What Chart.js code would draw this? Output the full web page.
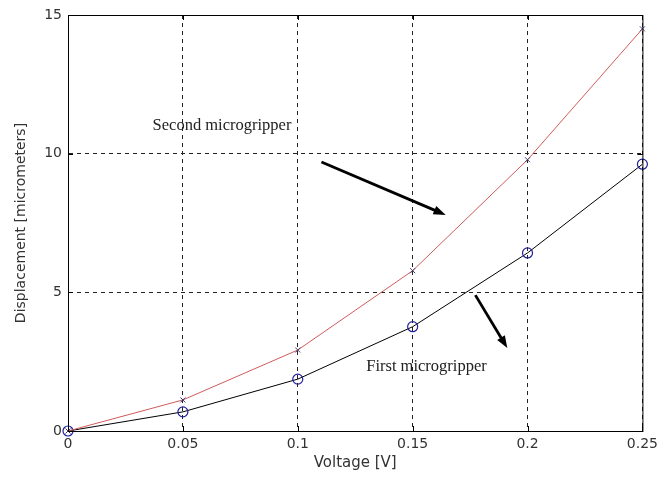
<!DOCTYPE html>
<html>
<head>
<meta charset="utf-8">
<script src="https://cdn.jsdelivr.net/npm/chart.js@4"></script>
<style>
  html, body { margin: 0; padding: 0; background: #fff; }
  #wrap { width: 663px; height: 480px; }
</style>
</head>
<body>
<div id="wrap"><canvas id="dispChart"></canvas></div>
<script>
const voltage = [0, 0.05, 0.1, 0.15, 0.2, 0.25];
const secondGripper = [0, 1.12, 2.92, 5.78, 9.78, 14.5];
const firstGripper = [0, 0.69, 1.87, 3.76, 6.42, 9.62];
const xTicks = [0, 0.05, 0.1, 0.15, 0.2, 0.25];
const yTicks = [0, 5, 10, 15];
const xTickLabels = ['0', '0.05', '0.1', '0.15', '0.2', '0.25'];
const yTickLabels = ['0', '5', '10', '15'];

// annotation labels and arrows, in data units
const notes = [
  { text: 'Second microgripper', x: 0.0368, y: 11.0 },
  { text: 'First microgripper', x: 0.1298, y: 2.31 }
];
const arrows = [
  { from: [0.1103, 9.70], to: [0.1644, 7.79] },
  { from: [0.1773, 4.90], to: [0.1912, 2.99] }
];

const boxPlugin = {
  id: 'box',
  afterDraw(chart) {
    const { ctx, chartArea: a, scales: { x, y } } = chart;
    ctx.save();
    ctx.strokeStyle = '#000';
    ctx.lineWidth = 1;
    ctx.setLineDash([]);
    ctx.strokeRect(a.left + 0.5, a.top + 0.5, a.right - a.left, a.bottom - a.top);
    // inward tick marks
    ctx.beginPath();
    xTicks.forEach(v => {
      const px = Math.round(x.getPixelForValue(v)) + 0.5;
      ctx.moveTo(px, a.bottom); ctx.lineTo(px, a.bottom - 5);
      ctx.moveTo(px, a.top); ctx.lineTo(px, a.top + 5);
    });
    yTicks.forEach(v => {
      const py = Math.round(y.getPixelForValue(v)) + 0.5;
      ctx.moveTo(a.left, py); ctx.lineTo(a.left + 5, py);
      ctx.moveTo(a.right, py); ctx.lineTo(a.right - 5, py);
    });
    ctx.stroke();

    ctx.fillStyle = '#222';
    ctx.font = '16.5px "Liberation Serif", serif';
    ctx.textBaseline = 'middle';
    notes.forEach(n => {
      ctx.fillText(n.text, x.getPixelForValue(n.x), y.getPixelForValue(n.y));
    });

    ctx.strokeStyle = '#000';
    ctx.fillStyle = '#000';
    ctx.lineWidth = 2.8;
    arrows.forEach(ar => {
      const x0 = x.getPixelForValue(ar.from[0]), y0 = y.getPixelForValue(ar.from[1]);
      const x1 = x.getPixelForValue(ar.to[0]), y1 = y.getPixelForValue(ar.to[1]);
      const ang = Math.atan2(y1 - y0, x1 - x0);
      const head = 13;
      ctx.beginPath();
      ctx.moveTo(x0, y0);
      ctx.lineTo(x1 - Math.cos(ang) * head * 0.8, y1 - Math.sin(ang) * head * 0.8);
      ctx.stroke();
      ctx.beginPath();
      ctx.moveTo(x1, y1);
      ctx.lineTo(x1 - head * Math.cos(ang - 0.35), y1 - head * Math.sin(ang - 0.35));
      ctx.lineTo(x1 - head * Math.cos(ang + 0.35), y1 - head * Math.sin(ang + 0.35));
      ctx.closePath();
      ctx.fill();
    });
    ctx.restore();
  }
};

const ctx = document.getElementById('dispChart');
new Chart(ctx, {
  type: 'line',
  data: {
    datasets: [
      {
        label: 'Second microgripper',
        data: voltage.map((v, i) => ({ x: v, y: secondGripper[i] })),
        borderColor: '#d05a5a',
        borderWidth: 1,
        pointStyle: 'crossRot',
        pointRadius: 3.5,
        pointBorderColor: '#3a3a6a',
        pointBorderWidth: 1,
        tension: 0,
        clip: false
      },
      {
        label: 'First microgripper',
        data: voltage.map((v, i) => ({ x: v, y: firstGripper[i] })),
        borderColor: '#000',
        borderWidth: 1,
        pointStyle: 'circle',
        pointRadius: 5,
        pointBackgroundColor: 'rgba(0,0,0,0)',
        pointBorderColor: '#1f1f9a',
        pointBorderWidth: 1.2,
        tension: 0,
        clip: false
      }
    ]
  },
  options: {
    responsive: true,
    maintainAspectRatio: false,
    animation: false,
    layout: { padding: { top: 15, right: 17, left: 0, bottom: 0 } },
    plugins: {
      legend: { display: false },
      tooltip: { enabled: false }
    },
    scales: {
      x: {
        type: 'linear',
        min: 0,
        max: 0.25,
        afterBuildTicks: s => { s.ticks = xTicks.map(v => ({ value: v })); },
        afterFit: s => { s.height = 49; },
        ticks: {
          padding: 5,
          color: '#333',
          font: { family: '"DejaVu Sans", sans-serif', size: 14 },
          callback: (v, i) => xTickLabels[i]
        },
        grid: { color: '#222', drawTicks: false },
        border: { color: '#000', dash: [4, 4], display: true },
        title: {
          display: true,
          text: 'Voltage [V]',
          color: '#333',
          padding: { top: 0, bottom: 8 },
          font: { family: '"DejaVu Sans", sans-serif', size: 15 }
        }
      },
      y: {
        type: 'linear',
        min: 0,
        max: 15,
        afterBuildTicks: s => { s.ticks = yTicks.map(v => ({ value: v })); },
        afterFit: s => { s.width = 68; },
        ticks: {
          padding: 6,
          color: '#333',
          font: { family: '"DejaVu Sans", sans-serif', size: 14 },
          callback: (v, i) => yTickLabels[i]
        },
        grid: { color: '#222', drawTicks: false },
        border: { color: '#000', dash: [4, 4], display: true },
        title: {
          display: true,
          text: 'Displacement [micrometers]',
          color: '#333',
          padding: { top: 13, bottom: 0 },
          font: { family: '"DejaVu Sans", sans-serif', size: 14 }
        }
      }
    }
  },
  plugins: [boxPlugin]
});
</script>
</body>
</html>
